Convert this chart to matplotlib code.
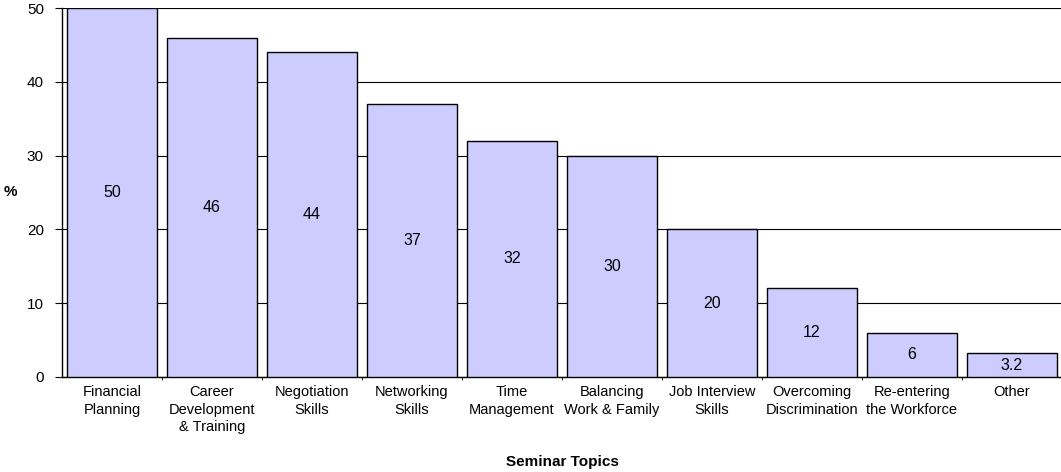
import matplotlib.pyplot as plt
import numpy as np

plt.rcParams['font.family'] = ['Liberation Sans', 'DejaVu Sans']

TOPICS = ['Financial\nPlanning', 'Career\nDevelopment\n& Training', 'Negotiation\nSkills',
          'Networking\nSkills', 'Time\nManagement', 'Balancing\nWork & Family',
          'Job Interview\nSkills', 'Overcoming\nDiscrimination', 'Re-entering\nthe Workforce', 'Other']
PCT = [50, 46, 44, 37, 32, 30, 20, 12, 6, 3.2]
VALUE_LABELS = ['50', '46', '44', '37', '32', '30', '20', '12', '6', '3.2']
Y_TICKS = [0, 10, 20, 30, 40, 50]

fig = plt.figure(figsize=(10.61, 4.72), dpi=100)
ax = fig.add_axes([62 / 1061, 1 - 377 / 472, 1000 / 1061, (377 - 8) / 472])

x = np.arange(len(PCT))
ax.bar(x, PCT, width=0.9, color='#ccccff', edgecolor='black', linewidth=1, zorder=3)
for xi, v, lab in zip(x, PCT, VALUE_LABELS):
    ax.text(xi, v / 2, lab, ha='center', va='center', fontsize=11.5, zorder=4)

ax.set_xlim(-0.5, len(PCT) - 0.5)
ax.set_ylim(0, 50)
ax.set_yticks(Y_TICKS)
ax.yaxis.grid(True, color='black', linewidth=0.8, zorder=0)
ax.set_xticks(x)
ax.set_xticks(x[:-1] + 0.5, minor=True)
ax.set_xticklabels(TOPICS, fontsize=10.5, linespacing=1.3)
ax.tick_params(axis='x', which='major', length=0, pad=6)
ax.tick_params(axis='x', which='minor', length=2)
ax.tick_params(axis='y', length=5, labelsize=11, pad=8)
for s in ['left', 'bottom', 'right']:
    ax.spines[s].set_linewidth(1)
ax.spines['top'].set_visible(False)

ax.set_xlabel('Seminar Topics', fontsize=11, fontweight='bold', labelpad=15)
fig.text(10 / 1061, 1 - 192 / 472, '%', fontsize=11, fontweight='bold', ha='center', va='center')

fig.savefig('out.png', dpi=100)
